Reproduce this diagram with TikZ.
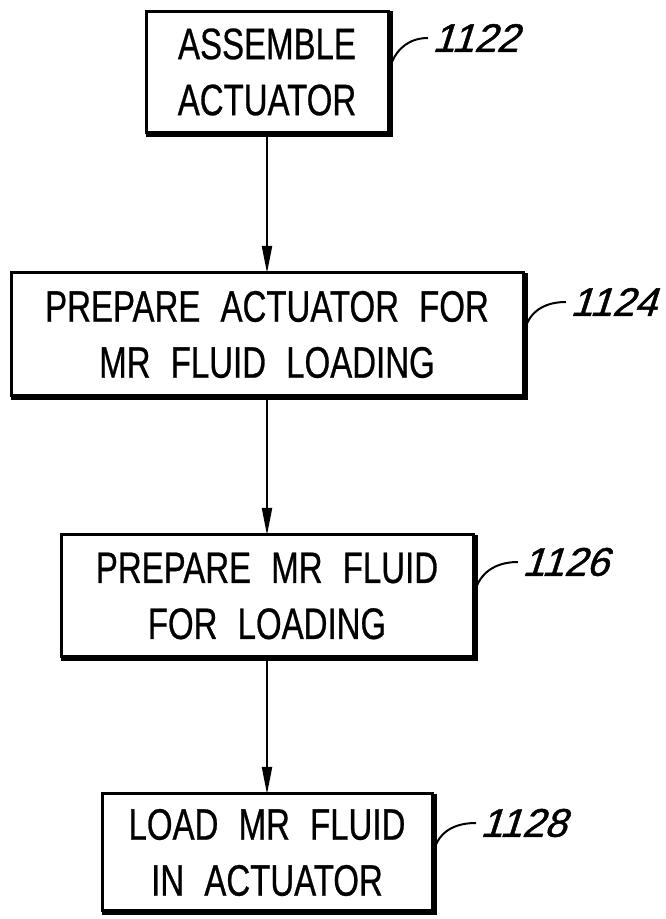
\documentclass[tikz,border=0pt]{standalone}
\usepackage{fontspec}
\setmainfont{Liberation Sans}[FakeStretch=0.75, WordSpace=2.2, FakeBold=0.6]
\newfontfamily\reffont{Liberation Sans}[FakeSlant=0.32, FakeBold=1.2]
\usetikzlibrary{arrows.meta}
\begin{document}
\begin{tikzpicture}[x=1pt,y=1pt,
  stepbox/.style={draw, line width=3pt, align=center, inner sep=0pt, outer sep=0pt,
    font=\fontsize{44}{56}\selectfont},
  flow/.style={line width=2pt, -{Triangle[length=27pt,width=10pt]}},
  lead/.style={line width=2pt},
  reflabel/.style={anchor=west, inner xsep=4pt, inner ysep=0pt, font=\reffont\fontsize{40}{40}\selectfont},
  shadowline/.style={line width=6pt, line join=miter}]
\useasboundingbox (0,0) rectangle (666,919);

\node[stepbox, minimum width=242pt, minimum height=121pt] (b1) at (267,847) {ASSEMBLE\\ACTUATOR};
\node[stepbox, minimum width=512pt, minimum height=123pt] (b2) at (267,584.5) {PREPARE ACTUATOR FOR\\MR FLUID LOADING};
\node[stepbox, minimum width=412pt, minimum height=122pt] (b3) at (267,323) {PREPARE MR FLUID\\FOR LOADING};
\node[stepbox, minimum width=330pt, minimum height=117pt] (b4) at (267,66.5) {LOAD MR FLUID\\IN ACTUATOR};

\foreach \b in {b1,b2,b3,b4}{
  \draw[shadowline] ([yshift=-1.5pt]\b.south west) -- ([shift={(1.5pt,-1.5pt)}]\b.south east) -- ([xshift=1.5pt]\b.north east);
}

\draw[flow] (b1.south) -- (b2.north);
\draw[flow] (b2.south) -- (b3.north);
\draw[flow] (b3.south) -- (b4.north);

\node[reflabel] (r1) at (428,881) {1122};
\node[reflabel] (r2) at (566,617) {1124};
\node[reflabel] (r3) at (518,357) {1126};
\node[reflabel] (r4) at (476,96) {1128};

\draw[lead] ([shift={(3pt,-53pt)}]b1.north east) to[out=70,in=180] (r1.west);
\draw[lead] ([shift={(3pt,-53pt)}]b2.north east) to[out=70,in=180] (r2.west);
\draw[lead] ([shift={(3pt,-53pt)}]b3.north east) to[out=70,in=180] (r3.west);
\draw[lead] ([shift={(3pt,-53pt)}]b4.north east) to[out=70,in=180] (r4.west);
\end{tikzpicture}
\end{document}
